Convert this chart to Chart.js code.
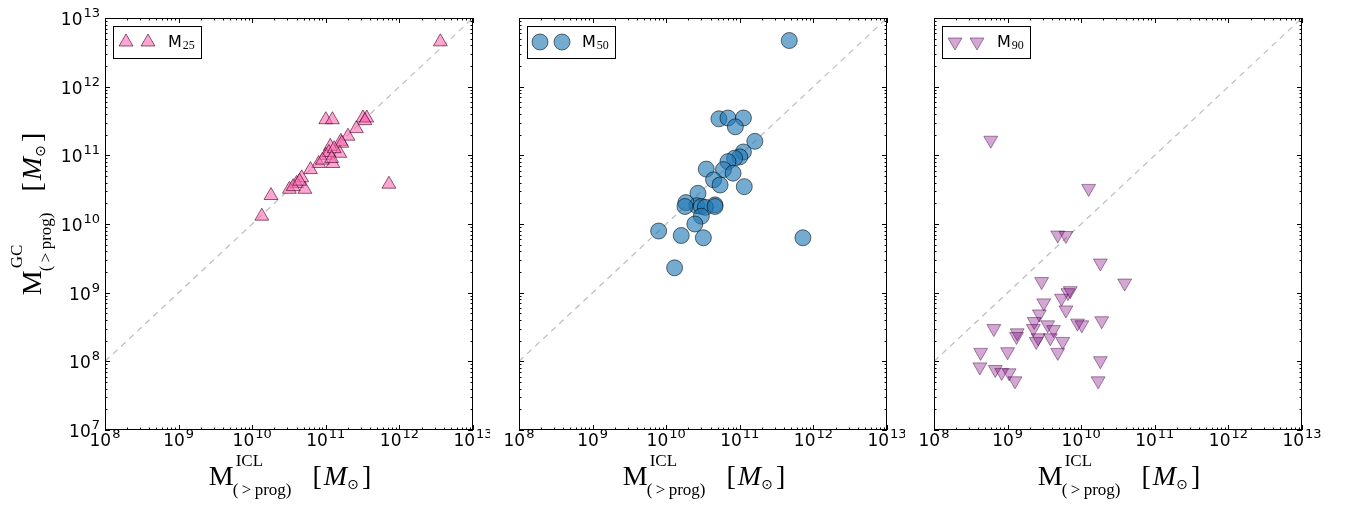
<!DOCTYPE html>
<html>
<head>
<meta charset="utf-8">
<title>GC vs ICL mass</title>
<script src="https://cdn.jsdelivr.net/npm/chart.js@4.4.1/dist/chart.umd.min.js"></script>
<style>
  html, body { margin: 0; padding: 0; background: #fff; }
  #wrap { position: relative; width: 1349px; height: 507px; overflow: hidden; }
  canvas { position: absolute; top: 0; }
</style>
</head>
<body>
<div id="wrap">
  <canvas id="c1" width="490" height="507" style="left:0"></canvas>
  <canvas id="c2" width="415" height="507" style="left:490px"></canvas>
  <canvas id="c3" width="444" height="507" style="left:905px"></canvas>
</div>
<script>
// axis decades (log10) and the 1:1 reference line
const xDecades = [8, 9, 10, 11, 12, 13];
const yDecades = [7, 8, 9, 10, 11, 12, 13];
const oneToOne = [1e8, 1e13];

// M25 sample
const m25Icl = [3.6e12, 1.0e11, 1.23e11, 3.2e11, 3.6e11, 3.4e11, 2.6e11, 2.0e11, 1.6e11, 1.65e11,
  1.15e11, 1.55e11, 1.0e11, 1.25e11, 8.0e10, 6.2e10, 4.7e10, 4.0e10, 3.2e10, 5.2e10,
  7.2e11, 1.8e10, 1.35e10, 3.6e10, 4.4e10, 1.1e11, 9.0e10, 1.3e11, 1.2e11];
const m25Gc = [4.5e12, 3.3e11, 3.3e11, 3.5e11, 3.5e11, 3.2e11, 2.45e11, 1.9e11, 1.6e11, 1.5e11,
  1.35e11, 1.07e11, 1.0e11, 7.6e10, 7.6e10, 6.2e10, 4.7e10, 3.9e10, 3.2e10, 3.2e10,
  3.8e10, 2.6e10, 1.3e10, 3.5e10, 4.2e10, 1.1e11, 8.5e10, 1.25e11, 9.0e10];

// M50 sample
const m50Icl = [4.7e11, 5.2e10, 6.9e10, 1.12e11, 8.7e10, 1.6e11, 1.12e11, 1.0e11, 8.5e10, 6.9e10,
  3.5e10, 6.0e10, 8.1e10, 4.4e10, 5.4e10, 1.15e11, 2.7e10, 2.6e10, 1.85e10, 4.6e10,
  3.0e10, 1.8e10, 3.4e10, 4.6e10, 3.0e10, 2.45e10, 7.9e9, 1.6e10, 3.2e10, 7.2e11, 1.3e10];
const m50Gc = [4.7e12, 3.4e11, 3.5e11, 3.5e11, 2.6e11, 1.6e11, 1.12e11, 9.5e10, 9.1e10, 8.1e10,
  6.3e10, 6.2e10, 5.5e10, 4.4e10, 3.7e10, 3.5e10, 2.8e10, 1.85e10, 2.05e10, 1.9e10,
  1.8e10, 1.8e10, 1.75e10, 1.8e10, 1.3e10, 1.0e10, 7.9e9, 6.8e9, 6.3e9, 6.3e9, 2.3e9];

// M90 sample
const m90Icl = [5.9e8, 1.26e10, 4.8e9, 6.2e9, 1.82e10, 2.9e9, 3.9e10, 7.1e9, 6.6e9, 5.4e9,
  3.1e9, 6.2e9, 2.7e9, 2.3e9, 8.9e9, 1.02e10, 1.9e10, 3.5e9, 6.5e8, 2.24e9,
  4.2e9, 1.35e9, 1.32e9, 2.6e9, 2.45e9, 3.8e9, 5.6e9, 1.0e9, 4.3e8, 4.8e9,
  1.82e10, 4.2e8, 6.8e8, 8.3e8, 1.05e9, 1.26e9, 1.7e10];
const m90Gc = [1.66e11, 3.3e10, 6.9e9, 6.8e9, 2.7e9, 1.45e9, 1.38e9, 1.07e9, 1.0e9, 8.3e8,
  7.1e8, 5.6e8, 4.9e8, 3.8e8, 3.6e8, 3.4e8, 3.9e8, 3.4e8, 3.0e8, 3.0e8,
  2.9e8, 2.6e8, 2.3e8, 2.2e8, 1.95e8, 2.2e8, 1.95e8, 1.38e8, 1.35e8, 1.35e8,
  1.02e8, 8.3e7, 7.6e7, 6.9e7, 6.8e7, 5.2e7, 5.2e7];

const SANS = '"DejaVu Sans", sans-serif';
const SERIF = '"Liberation Serif", "DejaVu Serif", serif';

function toPoints(xs, ys) {
  return xs.map((x, i) => ({ x: x, y: ys[i] }));
}

// "10" with a raised exponent
function powLabel(ctx, exp, x, y, align) {
  ctx.font = '17px ' + SANS;
  const wb = ctx.measureText('10').width;
  ctx.font = '13px ' + SANS;
  const we = ctx.measureText(String(exp)).width;
  const total = wb + we + 1;
  const x0 = align === 'right' ? x - total : x - total / 2;
  ctx.fillStyle = '#000';
  ctx.textAlign = 'left';
  ctx.textBaseline = 'alphabetic';
  ctx.font = '17px ' + SANS;
  ctx.fillText('10', x0, y);
  ctx.font = '13px ' + SANS;
  ctx.fillText(String(exp), x0 + wb + 1, y - 8);
}

// M^{sup}_{(>prog)} [M_sun], centred on cx
function mathTitle(ctx, sup, cx, base) {
  const big = '28px ' + SERIF;
  const small = '17px ' + SERIF;
  const sub = '(\u2009>\u2009prog)';
  ctx.font = big;
  const wM = ctx.measureText('M').width;
  const wL = ctx.measureText('[').width;
  const wR = ctx.measureText(']').width;
  ctx.font = small;
  const wSup = ctx.measureText(sup).width;
  const wSub = ctx.measureText(sub).width;
  ctx.font = 'italic ' + big;
  const wMi = ctx.measureText('M').width;
  ctx.font = '14px ' + SANS;
  const wO = ctx.measureText('\u2299').width;
  const gap = 20;
  const total = wM + Math.max(wSup + 2, wSub) + gap + wL + 2 + wMi + wO + 3 + wR;
  let x = cx - total / 2;
  ctx.fillStyle = '#000';
  ctx.textAlign = 'left';
  ctx.textBaseline = 'alphabetic';
  ctx.font = big;
  ctx.fillText('M', x, base);
  x += wM;
  ctx.font = small;
  ctx.fillText(sup, x + 2, base - 19);
  ctx.fillText(sub, x - 1, base + 10);
  x += Math.max(wSup + 2, wSub) + gap;
  ctx.font = big;
  ctx.fillText('[', x, base);
  x += wL + 2;
  ctx.font = 'italic ' + big;
  ctx.fillText('M', x, base);
  x += wMi;
  ctx.font = '14px ' + SANS;
  ctx.fillText('\u2299', x, base + 4);
  x += wO + 3;
  ctx.font = big;
  ctx.fillText(']', x, base);
}

const decorPlugin = {
  id: 'decor',
  afterDraw(chart) {
    const ctx = chart.ctx;
    const o = chart.options.plugins.decor;
    const a = chart.chartArea;
    const xs = chart.scales.x, ys = chart.scales.y;
    ctx.save();
    // frame
    ctx.strokeStyle = '#000';
    ctx.lineWidth = 1;
    ctx.strokeRect(Math.round(a.left) + 0.5, Math.round(a.top) + 0.5,
      Math.round(a.right - a.left) - 1, Math.round(a.bottom - a.top) - 1);
    // inward major + minor ticks on all four sides
    ctx.beginPath();
    xDecades.forEach((k, i) => {
      for (let m = 1; m <= (i < xDecades.length - 1 ? 9 : 1); m++) {
        const px = Math.round(xs.getPixelForValue(m * Math.pow(10, k))) + 0.5;
        const len = m === 1 ? 5 : 2.5;
        ctx.moveTo(px, a.bottom); ctx.lineTo(px, a.bottom - len);
        ctx.moveTo(px, a.top); ctx.lineTo(px, a.top + len);
      }
    });
    yDecades.forEach((k, i) => {
      for (let m = 1; m <= (i < yDecades.length - 1 ? 9 : 1); m++) {
        const py = Math.round(ys.getPixelForValue(m * Math.pow(10, k))) + 0.5;
        const len = m === 1 ? 5 : 2.5;
        ctx.moveTo(a.left, py); ctx.lineTo(a.left + len, py);
        ctx.moveTo(a.right, py); ctx.lineTo(a.right - len, py);
      }
    });
    ctx.stroke();
    // tick labels
    xDecades.forEach(k => powLabel(ctx, k, xs.getPixelForValue(Math.pow(10, k)), a.bottom + 16, 'center'));
    if (o.yLabels) {
      yDecades.forEach(k => powLabel(ctx, k, a.left - 5, ys.getPixelForValue(Math.pow(10, k)) + 7, 'right'));
    }
    // axis titles
    mathTitle(ctx, 'ICL', (a.left + a.right) / 2 + 1, a.bottom + 55);
    if (o.yTitle) {
      ctx.save();
      ctx.translate(41, (a.top + a.bottom) / 2 - 10);
      ctx.rotate(-Math.PI / 2);
      mathTitle(ctx, 'GC', 0, 0);
      ctx.restore();
    }
    // legend with two sample markers
    const lx = a.left + 8, ly = a.top + 8;
    ctx.fillStyle = '#fff';
    ctx.fillRect(lx, ly, 88, 32);
    ctx.strokeStyle = '#000';
    ctx.lineWidth = 1;
    ctx.strokeRect(lx + 0.5, ly + 0.5, 88, 32);
    const ds = chart.data.datasets[0];
    [21, 43].forEach(dx => {
      ctx.fillStyle = ds.backgroundColor;
      ctx.strokeStyle = ds.borderColor;
      ctx.lineWidth = ds.borderWidth;
      Chart.helpers.drawPoint(ctx, {
        pointStyle: ds.pointStyle, radius: ds.pointRadius,
        rotation: ds.rotation, borderWidth: ds.borderWidth
      }, a.left + dx, a.top + 24);
    });
    ctx.fillStyle = '#000';
    ctx.textAlign = 'left';
    ctx.textBaseline = 'alphabetic';
    ctx.font = '16px ' + SANS;
    ctx.fillText('M', a.left + 63, a.top + 29);
    const wm = ctx.measureText('M').width;
    ctx.font = '12px ' + SERIF;
    ctx.fillText(o.sub, a.left + 63 + wm + 1, a.top + 31);
    ctx.restore();
  }
};

function makePanel(id, icl, gc, style) {
  const logAxis = (min, max, fit) => ({
    type: 'logarithmic',
    min: min,
    max: max,
    display: true,
    grid: { display: false },
    border: { display: false },
    ticks: { display: false },
    afterFit: fit
  });
  return new Chart(document.getElementById(id), {
    type: 'scatter',
    data: {
      datasets: [
        {
          label: 'M' + style.sub,
          data: toPoints(icl, gc),
          pointStyle: style.pointStyle,
          rotation: style.rotation,
          pointRadius: style.radius,
          backgroundColor: style.fill,
          borderColor: style.edge,
          borderWidth: 1,
          order: 0
        },
        {
          label: '1:1',
          data: toPoints(oneToOne, oneToOne),
          showLine: true,
          pointRadius: 0,
          borderColor: '#bdbdbd',
          borderWidth: 1.2,
          borderDash: [6, 5],
          order: 1
        }
      ]
    },
    options: {
      responsive: false,
      animation: false,
      events: [],
      layout: { padding: { top: 18, right: style.padRight, left: 0, bottom: 0 } },
      plugins: {
        legend: { display: false },
        tooltip: { enabled: false },
        decor: { yLabels: style.yLabels, yTitle: style.yLabels, sub: style.sub }
      },
      scales: {
        x: logAxis(1e8, 1e13, s => { s.height = 77; }),
        y: logAxis(1e7, 1e13, s => { s.width = style.yWidth; })
      }
    },
    plugins: [decorPlugin]
  });
}

makePanel('c1', m25Icl, m25Gc, {
  sub: '25', pointStyle: 'triangle', rotation: 0, radius: 8,
  fill: 'rgba(255, 105, 180, 0.6)', edge: 'rgba(60, 0, 30, 0.6)',
  yWidth: 105, padRight: 17, yLabels: true
});
makePanel('c2', m50Icl, m50Gc, {
  sub: '50', pointStyle: 'circle', rotation: 0, radius: 8,
  fill: 'rgba(31, 119, 180, 0.62)', edge: 'rgba(0, 0, 0, 0.55)',
  yWidth: 29, padRight: 18, yLabels: false
});
makePanel('c3', m90Icl, m90Gc, {
  sub: '90', pointStyle: 'triangle', rotation: 180, radius: 8,
  fill: 'rgba(128, 0, 128, 0.35)', edge: 'rgba(60, 0, 60, 0.45)',
  yWidth: 29, padRight: 47, yLabels: false
});
</script>
</body>
</html>
